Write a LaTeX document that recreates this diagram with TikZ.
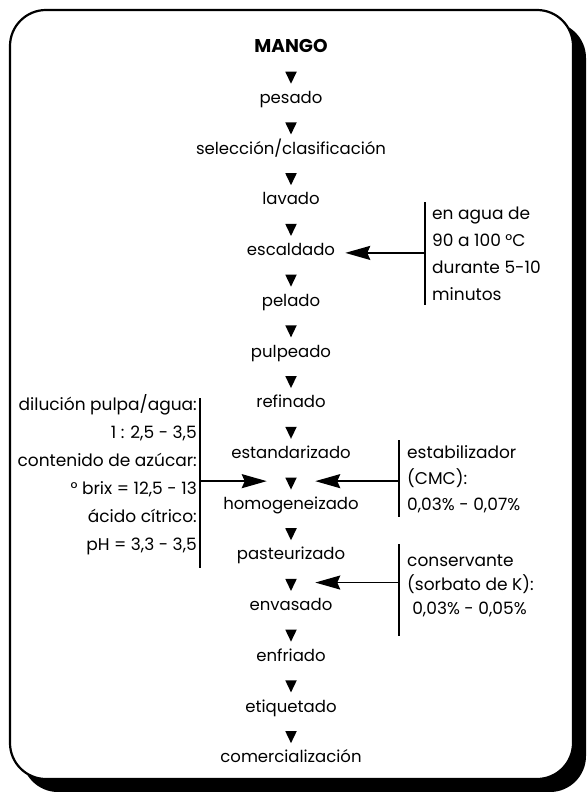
\documentclass[tikz,border=0pt]{standalone}
\usepackage{fontspec}
\setmainfont{Poppins}
\usetikzlibrary{shapes.geometric,arrows.meta,calc}
\begin{document}
\begin{tikzpicture}[x=1pt,y=-1pt,
  flow/.style={inner sep=0pt, font=\fontsize{16.5}{18}\selectfont, text height=0.55em, text depth=0pt},
  flowb/.style={flow, font=\fontsize{18.5}{20}\selectfont\bfseries},
  tri/.style={isosceles triangle, isosceles triangle stretches, shape border rotate=270,
    fill=black, inner sep=0pt, minimum width=11.5pt, minimum height=12pt},
  side/.style={font=\fontsize{17}{26}\selectfont, inner ysep=0pt},
  bar/.style={line width=1.8pt},
  feed/.style={line width=1.8pt, -{Stealth[length=25pt,width=14pt,inset=3pt]}},
]
\useasboundingbox (0,0) rectangle (586,792);
% frame with shadow
\fill[black, rounded corners=36pt] (22,22) rectangle (586,792);
\draw[line width=2.2pt, fill=white, rounded corners=36pt] (10,10) rectangle (573,779);

% main flow
\node[flowb] (n0)  at (291,50.0)  {MANGO};
\node[flow]  (n2)  at (291,100.7) {pesado};
\node[flow]  (n4)  at (291,151.4) {selección/clasificación};
\node[flow]  (n6)  at (291,202.2) {lavado};
\node[flow]  (n8)  at (291,252.9) {escaldado};
\node[flow]  (n10) at (291,303.6) {pelado};
\node[flow]  (n12) at (291,354.3) {pulpeado};
\node[flow]  (n14) at (291,405.0) {refinado};
\node[flow]  (n16) at (291,455.8) {estandarizado};
\node[flow]  (n18) at (291,506.5) {homogeneizado};
\node[flow]  (n20) at (291,557.2) {pasteurizado};
\node[flow]  (n22) at (291,607.9) {envasado};
\node[flow]  (n24) at (291,658.6) {enfriado};
\node[flow]  (n26) at (291,709.4) {etiquetado};
\node[flow]  (n28) at (291,760.1) {comercialización};

\path (n0)  -- node[tri] (t1)  {} (n2);
\path (n2)  -- node[tri] (t3)  {} (n4);
\path (n4)  -- node[tri] (t5)  {} (n6);
\path (n6)  -- node[tri] (t7)  {} (n8);
\path (n8)  -- node[tri] (t9)  {} (n10);
\path (n10) -- node[tri] (t11) {} (n12);
\path (n12) -- node[tri] (t13) {} (n14);
\path (n14) -- node[tri] (t15) {} (n16);
\path (n16) -- node[tri] (t17) {} (n18);
\path (n18) -- node[tri] (t19) {} (n20);
\path (n20) -- node[tri] (t21) {} (n22);
\path (n22) -- node[tri] (t23) {} (n24);
\path (n24) -- node[tri] (t25) {} (n26);
\path (n26) -- node[tri] (t27) {} (n28);

% side notes
\node[side, align=left, anchor=west, inner xsep=7pt, font=\fontsize{17}{27}\selectfont] (E) at (425,254)
  {en agua de\\90 a 100 °C\\durante 5-10\\minutos};
\node[side, align=right, anchor=east, inner xsep=3pt, font=\fontsize{17}{28}\selectfont] (L) at (200,475)
  {dilución pulpa/agua:\\1 : 2,5 - 3,5\\contenido de azúcar:\\° brix = 12,5 - 13\\ácido cítrico:\\pH = 3,3 - 3,5};
\node[side, align=left, anchor=west, inner xsep=8pt] (R1) at (399,479)
  {estabilizador\\(CMC):\\0,03\% - 0,07\%};
\node[side, align=left, anchor=west, inner xsep=8pt, font=\fontsize{17}{24}\selectfont] (R2) at (399,586)
  {conservante\\(sorbato de K):\\\hspace*{0.3em}0,03\% - 0,05\%};

% bars
\draw[bar] (E.west |- 0,202) -- (E.west |- 0,305);
\draw[bar] (L.east |- 0,398) -- (L.east |- 0,568);
\draw[bar] (R1.west |- 0,440) -- (R1.west |- 0,517);
\draw[bar] (R2.west |- 0,544) -- (R2.west |- 0,636);

% feed arrows
\draw[feed, shorten >=10pt] (E.west |- n8) -- (n8);
\draw[feed, shorten >=20pt] (L.east |- t17) -- (t17);
\draw[feed, shorten >=20pt] (R1.west |- t17) -- (t17);
\draw[feed, shorten >=20pt] (R2.west |- t21) -- (t21);
\end{tikzpicture}
\end{document}
